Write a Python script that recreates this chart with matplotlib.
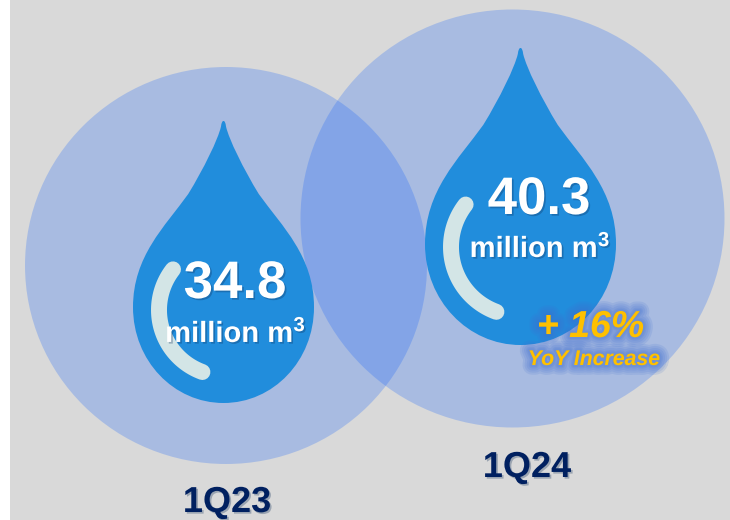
import numpy as np
import matplotlib
matplotlib.use("Agg")
import matplotlib.pyplot as plt
import matplotlib.patheffects as pe
from matplotlib.patches import Ellipse, PathPatch, Rectangle
from matplotlib.path import Path

plt.rcParams['font.family'] = ['Liberation Sans', 'DejaVu Sans']
plt.rcParams['mathtext.fontset'] = 'custom'
plt.rcParams['mathtext.bf'] = 'Liberation Sans:bold'
plt.rcParams['mathtext.rm'] = 'Liberation Sans:bold'
plt.rcParams['mathtext.default'] = 'bf'

quarters = ['1Q23', '1Q24']
values = [34.8, 40.3]
unit = r'million m$^{3}$'
change_label = '+ 16%'
change_note = 'YoY Increase'

W, H = 730, 520
GRAY = '#D9D9D9'
DROP = '#218DDC'
ARC = '#D3E5E6'
NAVY = '#002060'
GOLD = '#FFC000'

# cx, cy, rx, ry
circles = [(226, 265.5, 201, 198.5), (512.5, 218.5, 212, 209)]
# cx, tip y, half width, height
drops = [(223.5, 121, 90.5, 282), (520.5, 48, 95.5, 297)]
arcs = [(225, 310, 66, 110, 218), (520, 247, 69, 110, 218)]
value_pos = [(235, 298), (539, 214)]
unit_pos = [(235.5, 342), (540, 257)]
quarter_pos = [(227, 512), (527, 477)]


def drop_path(cx, tip, hw, h):
    right = [(0, 0), (.014, 0), (.022, .006), (.028, .02),
             (.06, .065), (.22, .17), (.39, .259),
             (.65, .375), (1, .48), (1, .66),
             (1, .85), (.55, 1), (0, 1)]
    left = [(-x, y) for x, y in right[-2::-1]]
    verts = right + left
    codes = [Path.MOVETO] + [Path.CURVE4] * (len(verts) - 1)
    pts = [(cx + x * hw, tip + y * h) for x, y in verts]
    return Path(pts, codes)


fig = plt.figure(figsize=(W / 100, H / 100), dpi=100, facecolor='white')
ax = fig.add_axes([0, 0, 1, 1])
ax.set_xlim(0, W)
ax.set_ylim(H, 0)
ax.axis('off')

ax.add_patch(Rectangle((10, 0), W - 10, H, fc=GRAY, ec='none', zorder=0))

for cx, cy, rx, ry in circles:
    ax.add_patch(Ellipse((cx, cy), 2 * rx, 2 * ry, fc=(8 / 255, 91 / 255, 1.0, .23), ec='none', zorder=1))

for d in drops:
    ax.add_patch(PathPatch(drop_path(*d), fc=DROP, ec='none', zorder=2))

for cx, cy, r, t1, t2 in arcs:
    t = np.radians(np.linspace(t1, t2, 80))
    ax.plot(cx + r * np.cos(t), cy + r * np.sin(t), color=ARC, lw=11.5,
            solid_capstyle='round', zorder=3)

shadow = [pe.withSimplePatchShadow(offset=(1.2, -1.2), shadow_rgbFace='#0A2A55', alpha=.3)]

for v, (x, y) in zip(values, value_pos):
    ax.text(x, y, f'{v:.1f}', color='white', fontsize=38, fontweight='bold',
            ha='center', va='baseline', path_effects=shadow, zorder=5)
for (x, y) in unit_pos:
    ax.text(x, y, unit, color='white', fontsize=21, fontweight='bold',
            ha='center', va='baseline', path_effects=shadow, zorder=5)
for q, (x, y) in zip(quarters, quarter_pos):
    ax.text(x, y, q, color=NAVY, fontsize=26, fontweight='bold',
            ha='center', va='baseline', path_effects=shadow, zorder=5)

glow = [pe.Stroke(linewidth=w, foreground='#3F6FD0', alpha=.14) for w in (14, 11, 8, 5, 3)] + [pe.Normal()]
ax.text(590.5, 337, change_label, color=GOLD, fontsize=27, fontweight='bold', style='italic',
        ha='center', va='baseline', path_effects=glow, zorder=5)
ax.text(594, 365, change_note, color=GOLD, fontsize=15.3, fontweight='bold', style='italic',
        ha='center', va='baseline', path_effects=glow, zorder=5)

fig.savefig('out.png', dpi=100, facecolor='white')
